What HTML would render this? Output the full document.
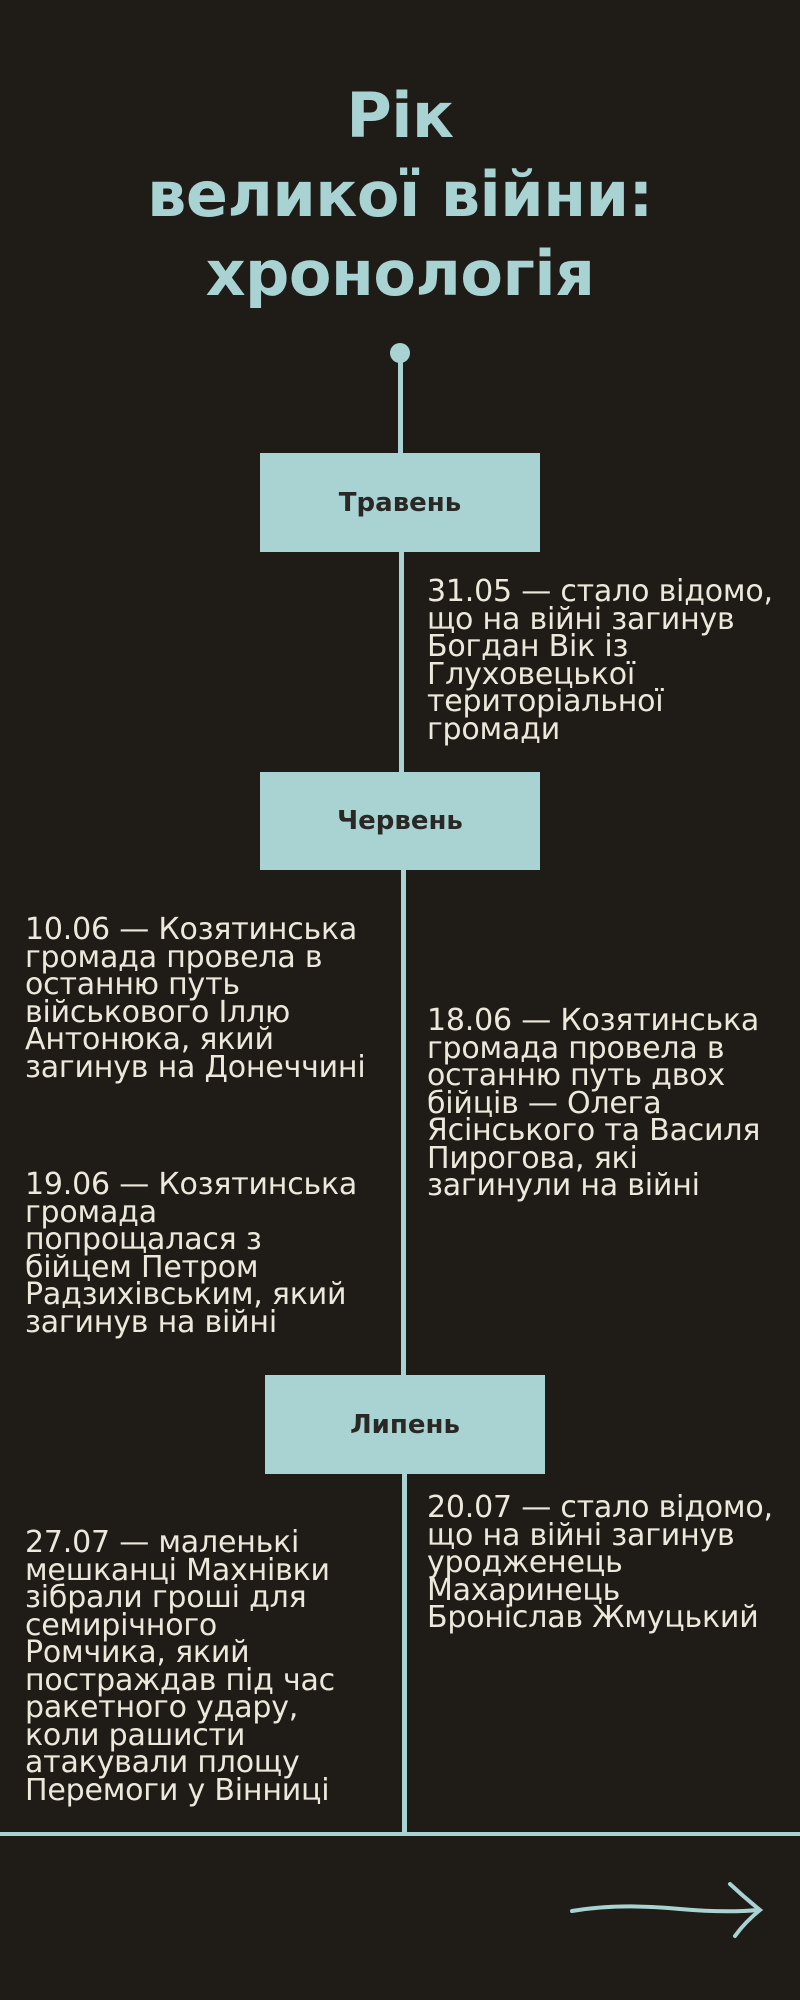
<!DOCTYPE html>
<html><head><meta charset="utf-8"><style>
html,body{margin:0;padding:0}
body{width:800px;height:2000px;background:#1f1c18;position:relative;overflow:hidden;font-family:"DejaVu Sans","Liberation Sans",sans-serif}
.t{position:absolute;left:0;width:800px;text-align:center;color:#a9d3d3;font-weight:bold;font-size:62px;line-height:79px;top:76px;letter-spacing:-0.5px}
.v{position:absolute;background:#a9d3d3;width:5px}
.box{position:absolute;background:#a9d3d3;color:#2a2825;font-weight:bold;font-size:26px;display:flex;align-items:center;justify-content:center}
.p{position:absolute;color:#ece9dc;font-size:30px;line-height:27.5px;white-space:nowrap;letter-spacing:-0.2px}
</style></head><body>
<div class="t">Рік<br>великої війни:<br>хронологія</div>
<div style="position:absolute;left:390px;top:343px;width:20px;height:20px;border-radius:50%;background:#a9d3d3"></div>
<div class="v" style="left:398px;top:355px;height:100px"></div>
<div class="box" style="left:260px;top:453px;width:280px;height:99px">Травень</div>
<div class="v" style="left:399px;top:552px;height:220px"></div>
<div class="p" style="left:427px;top:578px">31.05 — стало відомо,<br>що на війні загинув<br>Богдан Вік із<br>Глуховецької<br>територіальної<br>громади</div>
<div class="box" style="left:260px;top:772px;width:280px;height:98px">Червень</div>
<div class="v" style="left:401px;top:870px;height:506px"></div>
<div class="p" style="left:25px;top:916px">10.06 — Козятинська<br>громада провела в<br>останню путь<br>військового Іллю<br>Антонюка, який<br>загинув на Донеччині</div>
<div class="p" style="left:427px;top:1007px">18.06 — Козятинська<br>громада провела в<br>останню путь двох<br>бійців — Олега<br>Ясінського та Василя<br>Пирогова, які<br>загинули на війні</div>
<div class="p" style="left:25px;top:1171px">19.06 — Козятинська<br>громада<br>попрощалася з<br>бійцем Петром<br>Радзихівським, який<br>загинув на війні</div>
<div class="box" style="left:265px;top:1375px;width:280px;height:99px">Липень</div>
<div class="v" style="left:402px;top:1474px;height:360px"></div>
<div class="p" style="left:427px;top:1494px">20.07 — стало відомо,<br>що на війні загинув<br>уродженець<br>Махаринець<br>Броніслав Жмуцький</div>
<div class="p" style="left:25px;top:1529px">27.07 — маленькі<br>мешканці Махнівки<br>зібрали гроші для<br>семирічного<br>Ромчика, який<br>постраждав під час<br>ракетного удару,<br>коли рашисти<br>атакували площу<br>Перемоги у Вінниці</div>
<div style="position:absolute;left:0;top:1832px;width:800px;height:4px;background:#a9d3d3"></div>
<svg style="position:absolute;left:0;top:0" width="800" height="2000">
<path d="M572 1911 Q620 1903 680 1909 Q725 1913 758 1910" stroke="#a9d3d3" stroke-width="4" fill="none" stroke-linecap="round"/>
<path d="M730 1884 Q745 1898 760 1910 Q745 1922 735 1936" stroke="#a9d3d3" stroke-width="4" fill="none" stroke-linecap="round"/>
</svg>
</body></html>
